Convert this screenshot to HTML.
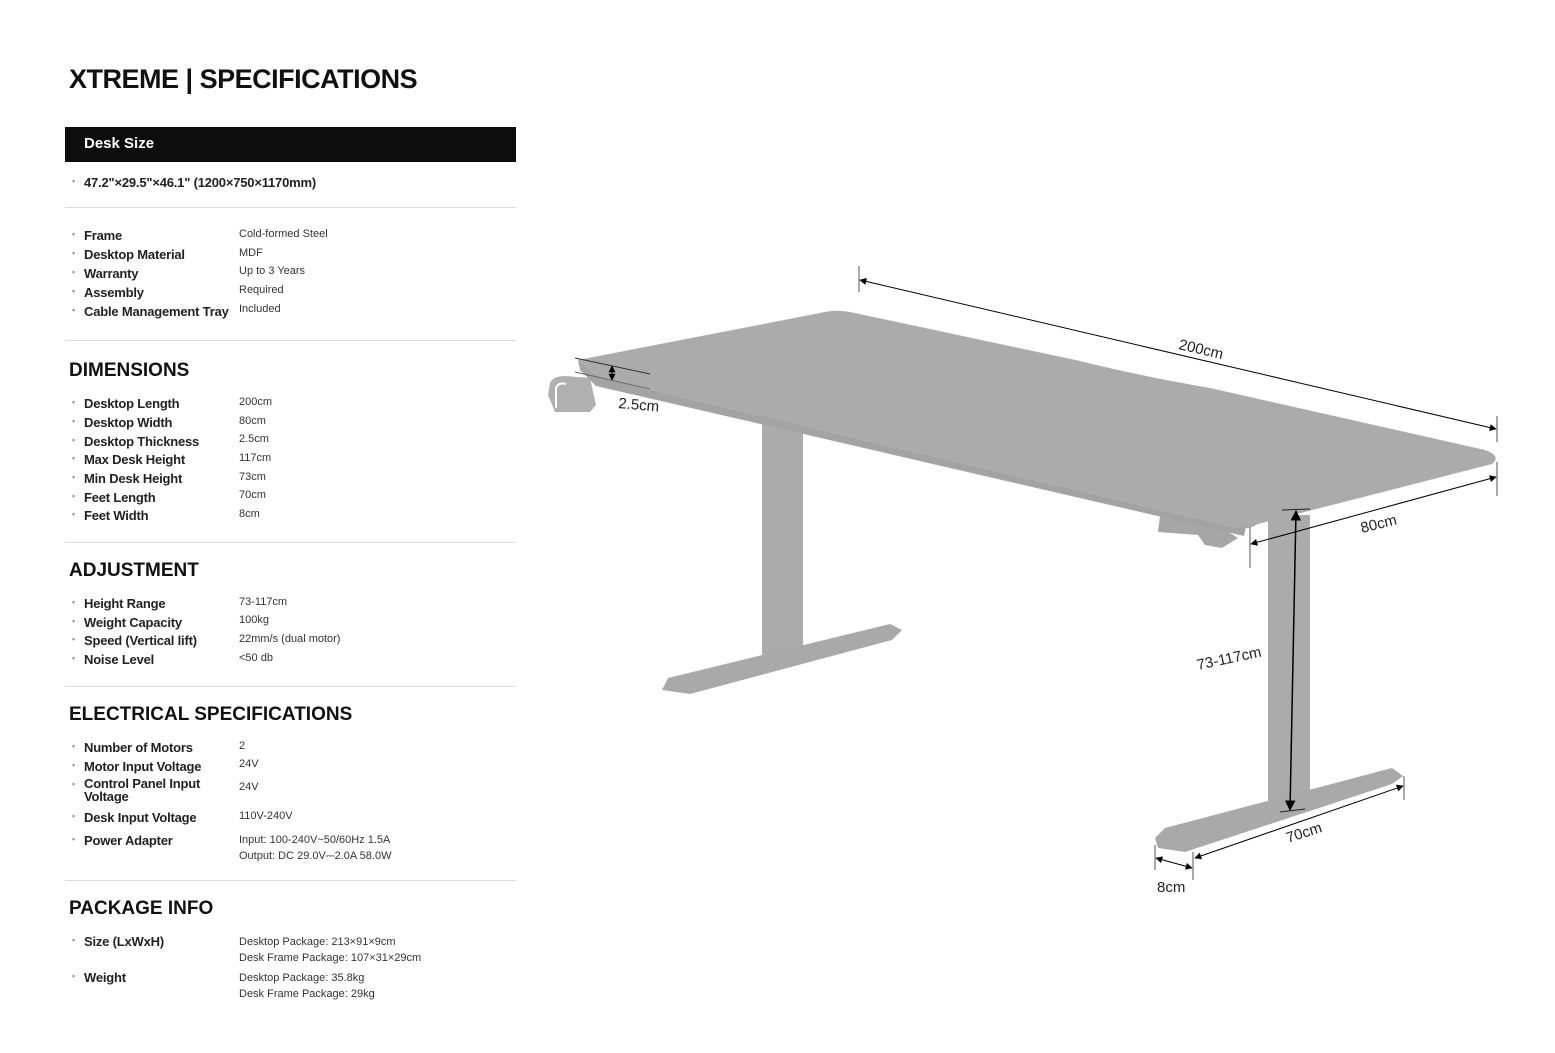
<!DOCTYPE html>
<html><head><meta charset="utf-8"><style>
body{margin:0;width:1555px;height:1053px;background:#fff;position:relative;overflow:hidden;font-family:"Liberation Sans",sans-serif;color:#111}
.a{position:absolute}
h1{position:absolute;left:69px;top:64px;margin:0;font-size:27px;font-weight:bold;letter-spacing:-0.5px}
.bar{position:absolute;left:65px;top:127px;width:451px;height:35px;background:#0d0d0d;color:#fff;font-weight:bold;font-size:15px;line-height:33px;padding-left:19px;box-sizing:border-box}
.hr{position:absolute;left:65px;width:451px;height:1px;background:#ddd}
.h2{position:absolute;left:69px;font-size:19px;font-weight:bold;margin:0}
.k{position:absolute;left:72px;font-size:13px;font-weight:bold;color:#222;letter-spacing:-0.2px}
.k:before{content:"•";color:#999;font-size:9px;position:absolute;left:0;top:1px}
.k span{margin-left:12px}
.v{position:absolute;left:239px;font-size:11px;color:#333}
</style></head><body>
<h1>XTREME | SPECIFICATIONS</h1>
<div class="bar">Desk Size</div>
<div class="k" style="top:175px"><span>47.2"×29.5"×46.1" (1200×750×1170mm)</span></div>
<div class="hr" style="top:207px"></div>

<div class="k" style="top:228px"><span>Frame</span></div><div class="v" style="top:228px">Cold-formed Steel</div>
<div class="k" style="top:247px"><span>Desktop Material</span></div><div class="v" style="top:247px">MDF</div>
<div class="k" style="top:266px"><span>Warranty</span></div><div class="v" style="top:265px">Up to 3 Years</div>
<div class="k" style="top:285px"><span>Assembly</span></div><div class="v" style="top:284px">Required</div>
<div class="k" style="top:304px"><span>Cable Management Tray</span></div><div class="v" style="top:303px">Included</div>
<div class="hr" style="top:340px"></div>

<div class="h2" style="top:360px">DIMENSIONS</div>
<div class="k" style="top:396px"><span>Desktop Length</span></div><div class="v" style="top:396px">200cm</div>
<div class="k" style="top:415px"><span>Desktop Width</span></div><div class="v" style="top:415px">80cm</div>
<div class="k" style="top:434px"><span>Desktop Thickness</span></div><div class="v" style="top:433px">2.5cm</div>
<div class="k" style="top:452px"><span>Max Desk Height</span></div><div class="v" style="top:452px">117cm</div>
<div class="k" style="top:471px"><span>Min Desk Height</span></div><div class="v" style="top:471px">73cm</div>
<div class="k" style="top:490px"><span>Feet Length</span></div><div class="v" style="top:489px">70cm</div>
<div class="k" style="top:508px"><span>Feet Width</span></div><div class="v" style="top:508px">8cm</div>
<div class="hr" style="top:542px"></div>

<div class="h2" style="top:560px">ADJUSTMENT</div>
<div class="k" style="top:596px"><span>Height Range</span></div><div class="v" style="top:596px">73-117cm</div>
<div class="k" style="top:615px"><span>Weight Capacity</span></div><div class="v" style="top:614px">100kg</div>
<div class="k" style="top:633px"><span>Speed (Vertical lift)</span></div><div class="v" style="top:633px">22mm/s (dual motor)</div>
<div class="k" style="top:652px"><span>Noise Level</span></div><div class="v" style="top:652px">&lt;50 db</div>
<div class="hr" style="top:686px"></div>

<div class="h2" style="top:704px">ELECTRICAL SPECIFICATIONS</div>
<div class="k" style="top:740px"><span>Number of Motors</span></div><div class="v" style="top:740px">2</div>
<div class="k" style="top:759px"><span>Motor Input Voltage</span></div><div class="v" style="top:758px">24V</div>
<div class="k" style="top:777px;line-height:13px"><span style="display:inline-block;vertical-align:top">Control Panel Input<br>Voltage</span></div><div class="v" style="top:781px">24V</div>
<div class="k" style="top:810px"><span>Desk Input Voltage</span></div><div class="v" style="top:810px">110V-240V</div>
<div class="k" style="top:833px"><span>Power Adapter</span></div><div class="v" style="top:832px;line-height:16px">Input: 100-240V~50/60Hz 1.5A<br>Output: DC 29.0V⎓2.0A 58.0W</div>
<div class="hr" style="top:880px"></div>

<div class="h2" style="top:898px">PACKAGE INFO</div>
<div class="k" style="top:934px"><span>Size (LxWxH)</span></div><div class="v" style="top:934px;line-height:16px">Desktop Package: 213×91×9cm<br>Desk Frame Package: 107×31×29cm</div>
<div class="k" style="top:970px"><span>Weight</span></div><div class="v" style="top:970px;line-height:16px">Desktop Package: 35.8kg<br>Desk Frame Package: 29kg</div>

<svg class="a" style="left:0;top:0" width="1555" height="1053" viewBox="0 0 1555 1053">
<defs><marker id="ar" viewBox="0 0 10 10" refX="9" refY="5" markerWidth="7" markerHeight="7" orient="auto-start-reverse"><path d="M0,0L10,5L0,10z" fill="#000"/></marker></defs>
<g>
<rect x="762" y="405" width="41" height="250" fill="#ababab"/>
<path d="M668,678 L890,624 L902,630 L892,640 L690,694 L662,690 Z" fill="#a9a9a9"/>
<rect x="1268" y="515" width="42" height="290" fill="#ababab"/>
<path d="M1165,828 L1392,768 L1403,776 L1392,784 L1185,852 L1158,848 L1155,838 Z" fill="#a9a9a9"/>
<path d="M1160,516 L1215,524 L1238,538 L1222,548 L1205,545 L1198,535 L1158,532 Z" fill="#a6a6a6"/>
<path d="M550,383 Q553,376 565,376 L590,378 L596,405 L590,412 L555,412 L548,395 Z" fill="#b0b0b0"/>
<path d="M556,408 L556,388 Q558,382 566,384" stroke="#fff" stroke-width="2" fill="none"/>
<path d="M578,360 L820,313 Q835,309 850,312 L1080,361 Q1140,376 1210,388 L1485,450 Q1502,456 1492,464 L1258,524 Q1248,530 1238,528 L600,378 Z" fill="#ababab"/>
<path d="M578,360 L600,378 L1238,528 L1246,526 L1244,536 L596,386 L580,370 Z" fill="#a3a3a3"/>
</g>
<g stroke="#000" stroke-width="1" fill="none">
<line x1="859" y1="266" x2="859" y2="292" stroke="#555"/>
<line x1="1497" y1="416" x2="1497" y2="442" stroke="#555"/>
<line x1="860" y1="280" x2="1496" y2="429" marker-start="url(#ar)" marker-end="url(#ar)"/>
<line x1="1497" y1="462" x2="1497" y2="496" stroke="#555"/>
<line x1="1250" y1="527" x2="1250" y2="568" stroke="#555"/>
<line x1="1251" y1="544" x2="1496" y2="477" marker-start="url(#ar)" marker-end="url(#ar)"/>
<line x1="1282" y1="510" x2="1310" y2="509" stroke="#222"/>
<line x1="1296" y1="511" x2="1290" y2="810" stroke-width="1.5" marker-start="url(#ar)" marker-end="url(#ar)"/>
<line x1="1280" y1="812" x2="1305" y2="809" stroke="#222"/>
<line x1="1195" y1="858" x2="1403" y2="786" marker-start="url(#ar)" marker-end="url(#ar)"/>
<line x1="1404" y1="776" x2="1404" y2="800" stroke="#555"/>
<line x1="1155" y1="845" x2="1155" y2="870" stroke="#555"/>
<line x1="1193" y1="852" x2="1193" y2="880" stroke="#555"/>
<line x1="1156" y1="858" x2="1192" y2="868" marker-start="url(#ar)" marker-end="url(#ar)"/>
<line x1="575" y1="358" x2="650" y2="374" stroke="#333"/>
<line x1="575" y1="372" x2="650" y2="389" stroke="#666"/>
<line x1="612" y1="366" x2="612" y2="380" marker-start="url(#ar)" marker-end="url(#ar)"/>
</g>
<g font-family="Liberation Sans,sans-serif" font-size="15" fill="#222">
<text x="1178" y="349" transform="rotate(13 1178 349)">200cm</text>
<text x="1362" y="533" transform="rotate(-14 1362 533)">80cm</text>
<text x="1198" y="670" transform="rotate(-12 1198 670)">73-117cm</text>
<text x="1288" y="843" transform="rotate(-18 1288 843)">70cm</text>
<text x="1157" y="892">8cm</text>
<text x="618" y="408" transform="rotate(5 618 408)">2.5cm</text>
</g>
</svg>
</body></html>
